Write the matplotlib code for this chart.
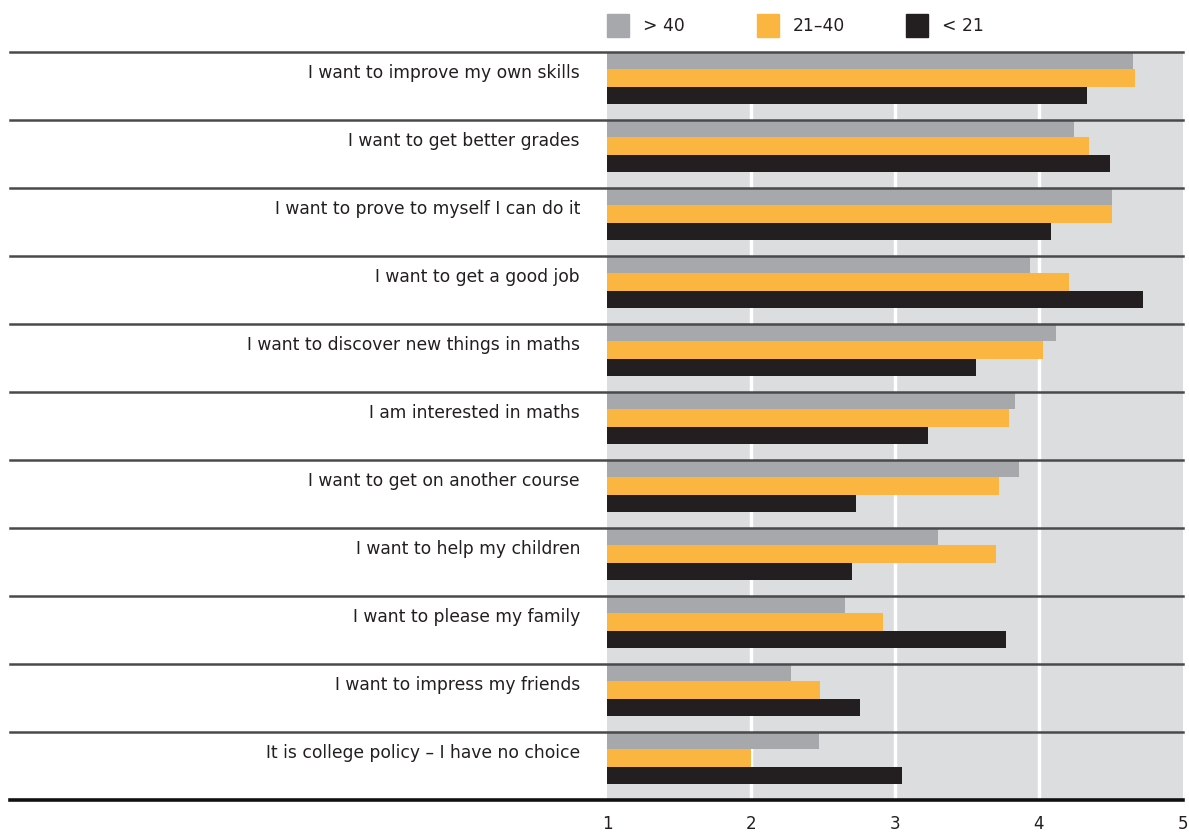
import matplotlib
matplotlib.use("Agg")
import matplotlib.pyplot as plt
from matplotlib.patches import Rectangle

categories = [
    "I want to improve my own skills",
    "I want to get better grades",
    "I want to prove to myself I can do it",
    "I want to get a good job",
    "I want to discover new things in maths",
    "I am interested in maths",
    "I want to get on another course",
    "I want to help my children",
    "I want to please my family",
    "I want to impress my friends",
    "It is college policy \u2013 I have no choice",
]
over40 = [4.65, 4.24, 4.51, 3.94, 4.12, 3.83, 3.86, 3.30, 2.65, 2.28, 2.47]
age21_40 = [4.67, 4.35, 4.51, 4.21, 4.03, 3.79, 3.72, 3.70, 2.92, 2.48, 2.00]
under21 = [4.33, 4.49, 4.08, 4.72, 3.56, 3.23, 2.73, 2.70, 3.77, 2.76, 3.05]
series_labels = ["> 40", "21\u201340", "< 21"]
xticks = [1, 2, 3, 4, 5]

colors = ["#a7a8ab", "#fbb642", "#231f20"]
bg = "#dcdddf"

W, H = 1189, 832
fig = plt.figure(figsize=(W / 100, H / 100), dpi=100)
L, R, T, B = 607, 1183, 52, 800
ax = fig.add_axes([L / W, 1 - B / H, (R - L) / W, (B - T) / H])
ax.set_facecolor(bg)
ax.set_xlim(1, 5)
n = len(categories)
ax.set_ylim(n, 0)

for x in xticks[1:-1]:
    ax.axvline(x, color="white", lw=2.5, zorder=1)

h = 0.255
offsets = [0.0, 0.255, 0.51]
for vals, col, off in zip([over40, age21_40, under21], colors, offsets):
    ys = [i + off for i in range(n)]
    ax.barh(ys, [v - 1 for v in vals], left=1, height=h, align="edge",
            color=col, zorder=2, linewidth=0)

xmin_frac = -(L - 10) / (R - L)
for i in range(n):
    ax.axhline(i, xmin=xmin_frac, xmax=1, color="#4a4a4a", lw=1.8,
               clip_on=False, zorder=3)
    ax.text(1 - 27 / 144, i + 0.31, categories[i], ha="right", va="center",
            fontsize=12.3, color="#231f20", family="DejaVu Sans")
ax.axhline(n, xmin=xmin_frac, xmax=1, color="#111111", lw=2.6,
           clip_on=False, zorder=3)

for s in ax.spines.values():
    s.set_visible(False)
ax.set_yticks([])
ax.set_xticks(xticks)
ax.set_xticklabels([str(t) for t in xticks], fontsize=12, color="#231f20")
ax.tick_params(axis="x", length=0, pad=11)

# legend
leg_x = [607, 757, 906]
for lx, col, lab in zip(leg_x, colors, series_labels):
    fig.patches.append(Rectangle((lx / W, 1 - 37 / H), 22 / W, 23 / H,
                                 transform=fig.transFigure, color=col))
    fig.text((lx + 36) / W, 1 - 26 / H, lab, ha="left", va="center",
             fontsize=12.3, color="#231f20")

fig.savefig("out.png", dpi=100)
